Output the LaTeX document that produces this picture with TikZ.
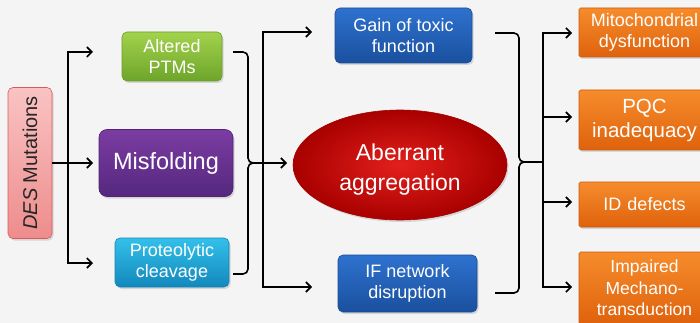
\documentclass[tikz,border=0pt]{standalone}
\usepackage{fontspec}
\setmainfont{Liberation Sans}
\usetikzlibrary{arrows.meta,shadows,calc,shapes.geometric}
\definecolor{bgc}{HTML}{F4F4F4}
\definecolor{grT}{HTML}{A3D24C}\definecolor{grB}{HTML}{6DA52A}\definecolor{grD}{HTML}{6A9E2C}
\definecolor{puT}{HTML}{7B3CA2}\definecolor{puB}{HTML}{55287E}\definecolor{puD}{HTML}{4E2474}
\definecolor{cyT}{HTML}{33C0EA}\definecolor{cyB}{HTML}{1288BC}\definecolor{cyD}{HTML}{1A84B0}
\definecolor{blT}{HTML}{2E72CF}\definecolor{blB}{HTML}{1A509E}\definecolor{blD}{HTML}{1B4E96}
\definecolor{orT}{HTML}{F68C2C}\definecolor{orB}{HTML}{DF620C}\definecolor{orD}{HTML}{C95A10}
\definecolor{rdI}{HTML}{E3201C}\definecolor{rdO}{HTML}{A80000}
\definecolor{pkT}{HTML}{F9C3C3}\definecolor{pkB}{HTML}{EE8C8C}\definecolor{pkD}{HTML}{D65C5C}
\begin{document}
\begin{tikzpicture}[x=1pt,y=-1pt,
  line/.style={line width=1.6pt,black},
  arr/.style={line, -{Straight Barb[length=5pt,width=10pt,line width=1.6pt]}},
  box/.style={draw, line width=0.6pt, rounded corners=5pt, align=center, text=white,
     inner sep=0pt, font=\fontsize{18}{21.5}\selectfont,
     drop shadow={opacity=0.25, shadow xshift=1.5pt, shadow yshift=-2pt}},
  obox/.style={box, rounded corners=1.5pt, top color=orT, bottom color=orB, draw=orD,
     minimum width=131, text width=125},
  blbox/.style={box, top color=blT, bottom color=blB, draw=blD}
]
\useasboundingbox (0,0) rectangle (700,323);
\clip (0,0) rectangle (700,323);
\fill[bgc] (0,0) rectangle (700,323);

% nodes
\node[box, rotate=90, top color=pkT, bottom color=pkB, draw=pkD, text=black!85,
      minimum width=151, minimum height=44, font=\fontsize{20}{24}\selectfont]
      (des) at (30,163) {\textit{DES} Mutations};
\node[box, top color=grT, bottom color=grB, draw=grD, minimum width=100, minimum height=49]
      (ptm) at (172,56.5) {Altered\\PTMs};
\node[box, rounded corners=8pt, top color=puT, bottom color=puB, draw=puD,
      minimum width=134, minimum height=67, font=\fontsize{23.5}{28}\selectfont]
      (mis) at (166,163) {Misfolding};
\node[box, top color=cyT, bottom color=cyB, draw=cyD, minimum width=114, minimum height=49]
      (pro) at (172,262.5) {Proteolytic\\cleavage};
\node[ellipse, draw=rdO, line width=0.6pt, inner color=rdI, outer color=rdO, text=white,
      minimum width=214, minimum height=110, inner sep=0pt, align=center,
      font=\fontsize{23}{30}\selectfont,
      drop shadow={opacity=0.25, shadow xshift=1.5pt, shadow yshift=-2pt}]
      (agg) at (400,165) {\rule{0pt}{25pt}Aberrant\\aggregation};
\node[blbox, minimum width=137, minimum height=55] (gain) at (403.5,35.5) {Gain of toxic\\function};
\node[blbox, minimum width=139, minimum height=57] (ifn) at (407.5,283.5) {IF network\\disruption};
\node[obox, minimum height=49] (mito) at (644.5,32.5) {Mitochondrial\\dysfunction};
\node[obox, minimum height=60, font=\fontsize{20.5}{24}\selectfont] (pqc) at (644.5,120) {PQC\\inadequacy};
\node[obox, minimum height=45] (idd) at (644.5,204.5) {ID defects};
\node[obox, minimum height=72, font=\fontsize{17.5}{21.5}\selectfont] (imp) at (644.5,288) {Impaired\\Mechano-\\transduction};

% coordinates
\coordinate (jL) at (68,163);
\coordinate (aPTM) at (93,52);
\coordinate (aPRO) at (93,263);
\coordinate (aMIS) at (93,163);
\coordinate (bLt) at (233,52);
\coordinate (bLb) at (233,274);
\coordinate (bLc) at (252,163);
\coordinate (aAGG) at (287,163);
\coordinate (jM) at (263,163);
\coordinate (aGAIN) at (312,32);
\coordinate (aIFN) at (312,287);
\coordinate (bRt) at (495,33);
\coordinate (bRb) at (495,293);
\coordinate (bRc) at (524,162);
\coordinate (jR) at (543,162);
\coordinate (aMITO) at (572,33);
\coordinate (aPQC) at (572,117);
\coordinate (aIDD) at (572,202);
\coordinate (aIMP) at (572,287);

% connectors left
\draw[arr] (des.south) -- (aMIS);
\draw[arr] (jL) |- (aPTM);
\draw[arr] (jL) |- (aPRO);

% left bracket
\draw[line, rounded corners=5pt] (bLt) -- (248,52) -- (248,163) -- (bLc);
\draw[line, rounded corners=5pt] (bLb) -- (248,274) -- (248,163) -- (bLc);
\draw[arr] (bLc) -- (aAGG);

% middle branch
\draw[arr] (jM) |- (aGAIN);
\draw[arr] (jM) |- (aIFN);

% right bracket
\draw[line, rounded corners=5pt] (bRt) -- (519,33) -- (519,162) -- (bRc);
\draw[line, rounded corners=5pt] (bRb) -- (519,293) -- (519,162) -- (bRc);
\draw[line] (bRc) -- (jR);
\draw[arr] (jR) |- (aMITO);
\draw[arr] (jR) |- (aPQC);
\draw[arr] (jR) |- (aIDD);
\draw[arr] (jR) |- (aIMP);
\end{tikzpicture}
\end{document}
